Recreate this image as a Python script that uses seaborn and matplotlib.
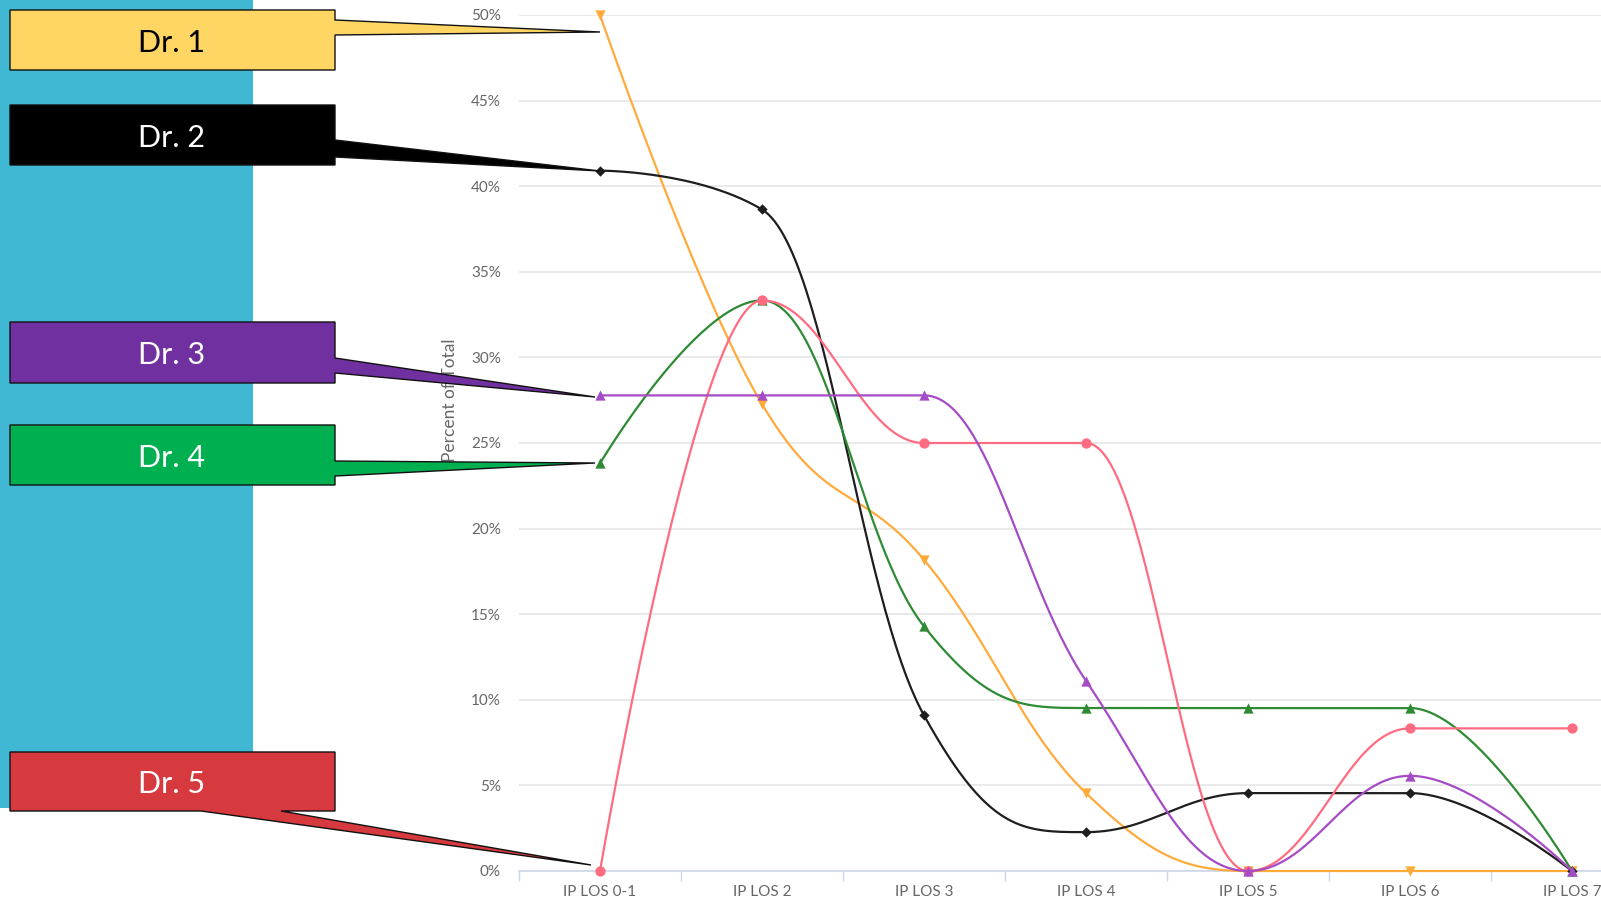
import numpy as np
import pandas as pd
import matplotlib
matplotlib.use("Agg")
import matplotlib.pyplot as plt
from matplotlib.patches import Polygon, Rectangle
import seaborn as sns

# Length-of-stay distribution per physician (percent of each physician's total)
categories = ["IP LOS 0-1", "IP LOS 2", "IP LOS 3", "IP LOS 4", "IP LOS 5", "IP LOS 6", "IP LOS 7"]
dr1 = [50.0, 27.27, 18.18, 4.55, 0.0, 0.0, 0.0]
dr2 = [40.91, 38.64, 9.09, 2.27, 4.55, 4.55, 0.0]
dr3 = [27.78, 27.78, 27.78, 11.11, 0.0, 5.56, 0.0]
dr4 = [23.81, 33.33, 14.29, 9.52, 9.52, 9.52, 0.0]
dr5 = [0.0, 33.33, 25.0, 25.0, 0.0, 8.33, 8.33]
doctors = ["Dr. 1", "Dr. 2", "Dr. 3", "Dr. 4", "Dr. 5"]
y_ticks = [0, 5, 10, 15, 20, 25, 30, 35, 40, 45, 50]

sns.set_theme(style="white")
plt.rcParams["font.family"] = ["Lato", "DejaVu Sans"]

W, H = 1601, 902
fig = plt.figure(figsize=(W / 100, H / 100), dpi=100)
fig.patch.set_facecolor("white")


def spline(xs, ys, smoothing=1.5, steps=60):
    """Smooth curve through the points using cubic Beziers whose control
    points are aligned through each point and clamped to avoid overshoot."""
    n = len(xs)
    left = [None] * n
    right = [None] * n
    d = smoothing + 1
    for i in range(1, n - 1):
        px, py = xs[i], ys[i]
        lx, ly = xs[i - 1], ys[i - 1]
        nx, ny = xs[i + 1], ys[i + 1]
        lcx, lcy = (smoothing * px + lx) / d, (smoothing * py + ly) / d
        rcx, rcy = (smoothing * px + nx) / d, (smoothing * py + ny) / d
        corr = (rcy - lcy) * (rcx - px) / (rcx - lcx) + py - rcy
        lcy += corr
        rcy += corr
        if lcy > ly and lcy > py:
            lcy = max(ly, py); rcy = 2 * py - lcy
        elif lcy < ly and lcy < py:
            lcy = min(ly, py); rcy = 2 * py - lcy
        if rcy > ny and rcy > py:
            rcy = max(ny, py); lcy = 2 * py - rcy
        elif rcy < ny and rcy < py:
            rcy = min(ny, py); lcy = 2 * py - rcy
        left[i] = (lcx, lcy)
        right[i] = (rcx, rcy)
    out_x, out_y = [xs[0]], [ys[0]]
    t = np.linspace(0, 1, steps)[1:]
    for i in range(1, n):
        p0 = np.array([xs[i - 1], ys[i - 1]], float)
        p3 = np.array([xs[i], ys[i]], float)
        p1 = np.array(right[i - 1] if right[i - 1] else p0, float)
        p2 = np.array(left[i] if left[i] else p3, float)
        a = (1 - t) ** 3
        b = 3 * (1 - t) ** 2 * t
        c = 3 * (1 - t) * t ** 2
        e = t ** 3
        out_x.extend(a * p0[0] + b * p1[0] + c * p2[0] + e * p3[0])
        out_y.extend(a * p0[1] + b * p1[1] + c * p2[1] + e * p3[1])
    return np.array(out_x), np.array(out_y)


# Main chart area (extends past the right edge of the canvas)
ax = fig.add_axes([519 / W, 31 / H, 1134 / W, 856 / H])
ax.set_facecolor("white")

series = {
    "Dr. 1": (dr1, "#FFAB3C", "v", 55),
    "Dr. 2": (dr2, "#1E1E1E", "D", 28),
    "Dr. 4": (dr4, "#2E8B34", "^", 55),
    "Dr. 5": (dr5, "#FF6B80", "o", 55),
    "Dr. 3": (dr3, "#A64BC6", "^", 55),
}
xpos = np.arange(len(categories))
for z, (name, (vals, color, marker, size)) in enumerate(series.items()):
    cx, cy = spline(xpos, vals)
    curve = pd.DataFrame({"x": cx, "y": cy})
    sns.lineplot(data=curve, x="x", y="y", sort=False, estimator=None,
                 color=color, lw=1.6, ax=ax, zorder=3 + z, clip_on=False)
    pts = pd.DataFrame({"x": xpos, "y": vals})
    sns.scatterplot(data=pts, x="x", y="y", marker=marker, s=size, color=color,
                    edgecolor=color, linewidth=0, ax=ax, zorder=3.5 + z,
                    clip_on=False, legend=False)

ax.set_xlim(-0.5, 6.5)
ax.set_ylim(0, 50)
ax.set_yticks(y_ticks)
ax.set_yticklabels([f"{v}%" for v in y_ticks])
ax.yaxis.grid(True, color="#E6E6E6", lw=1.2)
ax.xaxis.grid(False)
ax.set_axisbelow(True)
ax.tick_params(axis="y", length=0, pad=13, labelsize=11, labelcolor="#666666")
ax.set_xticks(xpos)
ax.set_xticklabels(categories)
ax.set_xticks(np.arange(-0.5, 7.0, 1.0), minor=True)
ax.tick_params(axis="x", which="major", length=0, pad=10, labelsize=11, labelcolor="#666666")
ax.tick_params(axis="x", which="minor", length=7, width=1, color="#CCD6EB", bottom=True)
for side in ("top", "right", "left"):
    ax.spines[side].set_visible(False)
ax.spines["bottom"].set_color("#CCD6EB")
ax.spines["bottom"].set_linewidth(1.2)
ax.set_xlabel("")
ax.set_ylabel("Percent of Total", fontsize=12.5, color="#666666")
ax.yaxis.set_label_coords((458 - 519) / 1134, (502 - 31) / 856)

# Overlay with the side panel and the callout labels
ov = fig.add_axes([0, 0, 1, 1])
ov.set_xlim(0, W)
ov.set_ylim(H, 0)
ov.axis("off")
ov.patch.set_alpha(0)
ov.set_zorder(5)

ov.add_patch(Rectangle((0, 0), 253, 808, facecolor="#40B8D3", edgecolor="none", zorder=1))

callouts = [
    ("Dr. 1", "#FFD563", "black",
     [(10, 10), (335, 10), (335, 20), (600, 32), (335, 35), (335, 70), (10, 70)], 43),
    ("Dr. 2", "#000000", "white",
     [(10, 105), (335, 105), (335, 140), (600, 171), (335, 157), (335, 165), (10, 165)], 138),
    ("Dr. 3", "#7030A0", "white",
     [(10, 322), (335, 322), (335, 358), (595, 397), (335, 373), (335, 383), (10, 383)], 355),
    ("Dr. 4", "#00B050", "white",
     [(10, 425), (335, 425), (335, 461), (595, 463), (335, 476), (335, 485), (10, 485)], 458),
    ("Dr. 5", "#D63A3F", "white",
     [(10, 752), (335, 752), (335, 811), (281, 811), (591, 865), (201, 811), (10, 811)], 784),
]
for label, fill, txt, poly, cy in callouts:
    ov.add_patch(Polygon(poly, closed=True, facecolor=fill, edgecolor="#111111",
                         lw=1.0, joinstyle="miter", zorder=2))
    ov.text(172, cy, label, color=txt, fontsize=22, ha="center", va="center", zorder=3)

fig.savefig("out.png", dpi=100)
